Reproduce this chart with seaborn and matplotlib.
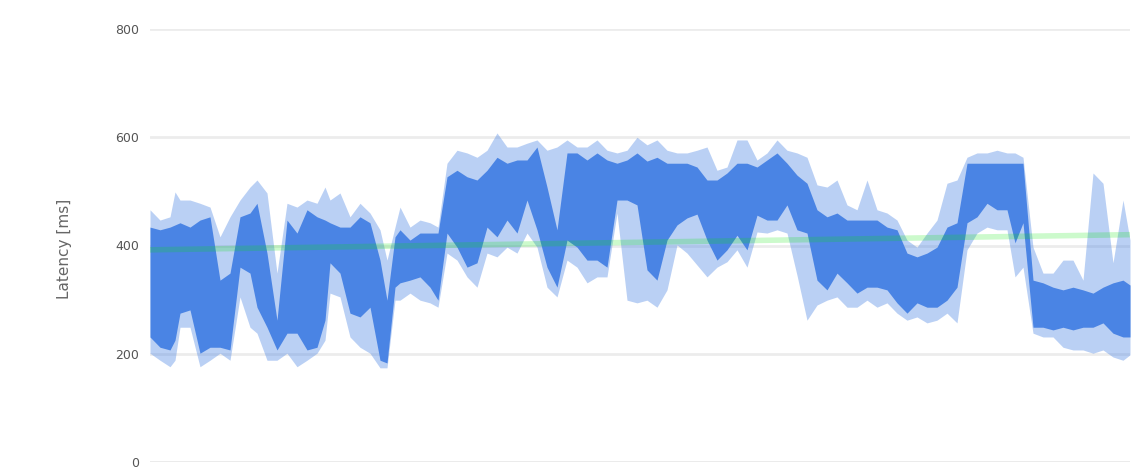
import numpy as np
import pandas as pd
import matplotlib
matplotlib.use("Agg")
import matplotlib.pyplot as plt
import seaborn as sns

# Sample positions along the run (x axis)
sample = [0, 10, 20, 25, 30, 40, 50, 60, 70, 80, 90, 100, 107, 117, 127, 137, 147,
          157, 167, 175, 180, 190, 200, 210, 220, 230, 237, 245, 250, 260, 270, 280,
          288, 297, 307, 317, 327, 337, 347, 357, 367, 377, 387, 397, 407, 417, 427,
          437, 447, 457, 467, 477, 487, 497, 507, 517, 527, 537, 547, 557, 567, 577,
          587, 597, 607, 617, 627, 637, 647, 657, 667, 677, 687, 697, 707, 717, 727,
          737, 747, 757, 767, 777, 787, 797, 807, 817, 827, 837, 847, 857, 865, 873,
          883, 893, 903, 913, 923, 933, 943, 953, 963, 973, 980]

# Latency envelope (ms): extreme spikes and the dense core of the signal
spike_high = [466, 447, 453, 499, 484, 484, 478, 471, 416, 453, 484, 508, 521, 497,
              349, 478, 471, 484, 478, 508, 484, 497, 453, 478, 460, 429, 373, 434,
              471, 434, 447, 442, 434, 552, 576, 571, 563, 576, 608, 582, 582, 589,
              595, 576, 582, 595, 582, 582, 595, 576, 571, 576, 600, 586, 595, 576,
              571, 571, 576, 582, 539, 545, 595, 595, 558, 571, 595, 576, 571, 563,
              512, 508, 521, 475, 466, 521, 466, 460, 447, 410, 397, 423, 447, 515,
              521, 563, 571, 571, 576, 571, 571, 563, 397, 349, 349, 373, 373, 336,
              534, 515, 368, 484, 410]
core_high = [434, 429, 434, 438, 442, 434, 447, 453, 336, 349, 453, 460, 478, 386,
             262, 447, 423, 466, 453, 447, 442, 434, 434, 453, 442, 373, 299, 416,
             429, 410, 423, 423, 423, 527, 539, 527, 521, 539, 563, 552, 558, 558,
             582, 508, 429, 571, 571, 558, 571, 558, 552, 558, 571, 556, 563, 552,
             552, 552, 545, 521, 521, 534, 552, 552, 545, 558, 571, 552, 530, 515,
             466, 453, 460, 447, 447, 447, 447, 434, 429, 386, 379, 386, 397, 434,
             442, 552, 552, 552, 552, 552, 552, 552, 336, 331, 323, 318, 323, 318,
             312, 323, 331, 336, 327]
core_low = [231, 212, 207, 225, 275, 281, 201, 212, 212, 207, 360, 349, 286, 249,
            207, 238, 238, 207, 212, 262, 368, 349, 275, 268, 286, 188, 183, 323,
            331, 336, 342, 323, 299, 423, 397, 360, 368, 434, 416, 447, 423, 484,
            429, 360, 323, 410, 397, 373, 373, 360, 484, 484, 475, 355, 336, 410,
            438, 451, 458, 410, 373, 392, 419, 392, 456, 447, 447, 475, 429, 423,
            336, 318, 349, 331, 312, 323, 323, 318, 294, 275, 294, 286, 286, 299,
            323, 442, 453, 478, 466, 466, 405, 442, 249, 249, 244, 249, 244, 249,
            249, 257, 238, 231, 231]
spike_low = [201, 188, 176, 188, 249, 249, 176, 188, 201, 188, 305, 249, 238, 188,
             188, 201, 176, 188, 201, 225, 312, 305, 231, 212, 201, 174, 174, 299,
             299, 312, 299, 294, 286, 386, 373, 342, 323, 386, 379, 397, 386, 423,
             397, 323, 305, 373, 360, 331, 342, 342, 460, 299, 294, 299, 286, 318,
             401, 386, 364, 342, 360, 370, 392, 360, 425, 423, 429, 423, 345, 262,
             290, 299, 305, 286, 286, 299, 286, 294, 275, 262, 268, 257, 262, 275,
             257, 392, 423, 434, 429, 429, 342, 360, 238, 231, 231, 212, 207, 207,
             201, 207, 194, 188, 198]

# Linear trend of the latency over the run
trend_sample = [0, 980]
trend_latency = [392, 420]

y_ticks = [0, 200, 400, 600, 800]
y_label = "Latency [ms]"

blue = "#4a84e4"
green = "#00e600"

sns.set_theme(style="white")
plt.rcParams["font.family"] = ["DejaVu Sans"]

fig = plt.figure(figsize=(11.39, 4.67), dpi=100)
ax = fig.add_axes([150 / 1139, 5 / 467, 980 / 1139, 433 / 467])


def band_frame(lo, hi):
    return pd.DataFrame({
        "sample": np.repeat(sample, 2),
        "latency": np.column_stack([lo, hi]).ravel(),
    })


# Light envelope for the spikes, solid envelope for the dense core
sns.lineplot(data=band_frame(spike_low, spike_high), x="sample", y="latency",
             estimator="mean", errorbar=("pi", 100), color=blue, linewidth=0,
             err_kws={"alpha": 0.38, "linewidth": 0}, ax=ax)
sns.lineplot(data=band_frame(core_low, core_high), x="sample", y="latency",
             estimator="mean", errorbar=("pi", 100), color=blue, linewidth=0,
             err_kws={"alpha": 1.0, "linewidth": 0}, ax=ax)

sns.lineplot(x=trend_sample, y=trend_latency, color=green, alpha=0.2,
             linewidth=4, ax=ax)

ax.set_xlim(sample[0], sample[-1])
ax.set_ylim(0, 800)
ax.set_yticks(y_ticks)
ax.set_yticklabels([str(v) for v in y_ticks], fontsize=9, color="#555555")
ax.set_xticks([])
ax.set_xlabel("")
ax.set_ylabel("")
ax.tick_params(axis="y", length=0, pad=8)
ax.grid(axis="y", color="#ececec", linewidth=2)
ax.set_axisbelow(True)
for side in ["top", "right", "left", "bottom"]:
    ax.spines[side].set_visible(False)
ax.axhline(0, color="#e2e2e2", linewidth=2, zorder=0)

fig.text(65 / 1139, 1 - 249 / 467, y_label, rotation=90, ha="center",
         va="center", fontsize=11, color="#666666")

fig.savefig("out.png", dpi=100)
